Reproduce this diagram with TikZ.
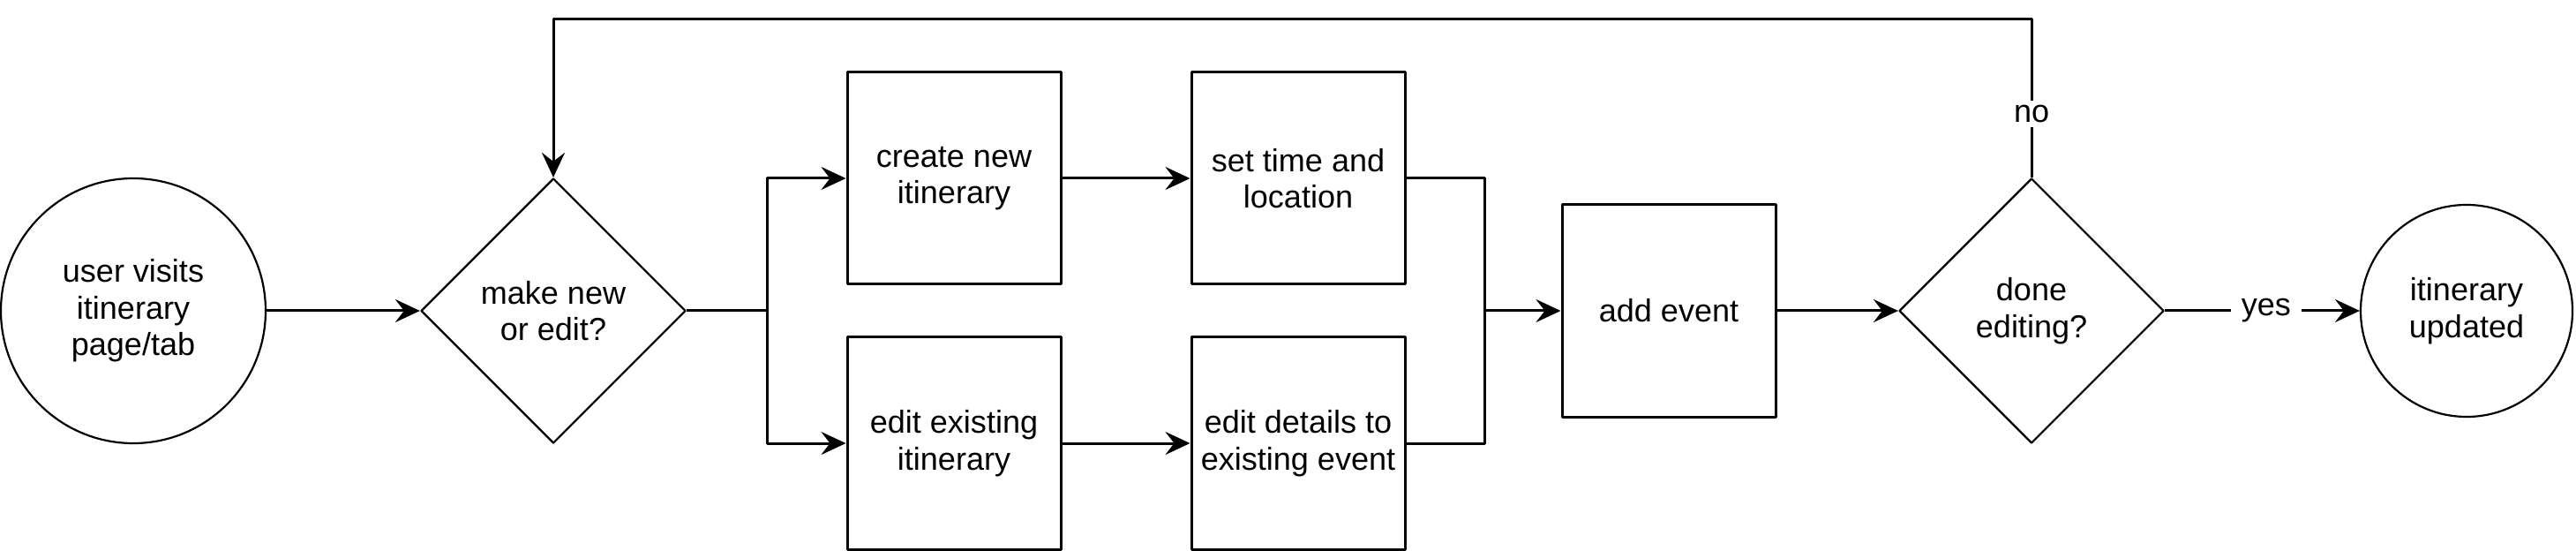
\documentclass[tikz,border=0pt]{standalone}
\usepackage{fontspec}
\setmainfont{Liberation Sans}
\usetikzlibrary{arrows.meta,shapes.geometric}
\begin{document}
\begin{tikzpicture}[>={Stealth[length=2.8mm,width=2.6mm,inset=1mm]}, line width=0.3mm, line join=round,
  font=\fontsize{10.25}{11.8}\selectfont,
  stepbox/.style={draw, rectangle, minimum width=2.42cm, minimum height=2.4cm, align=center, inner sep=0pt},
  decide/.style={draw, diamond, line width=0.22mm, minimum width=3cm, minimum height=3cm, align=center, inner sep=0pt},
  term/.style={draw, circle, line width=0.22mm, align=center, inner sep=0pt},
  lbl/.style={fill=white, inner xsep=1.2mm, inner ysep=0.5mm}]
\useasboundingbox (0,0) rectangle (29.19,-6.24);
% Knoten
\node[term, minimum size=3cm] (visit) at (1.51,-3.52) {user visits\\itinerary\\page/tab};
\node[decide] (choice) at (6.27,-3.52) {make new\\or edit?};
\node[stepbox] (create) at (10.81,-2.02) {create new\\itinerary};
\node[stepbox] (settime) at (14.71,-2.02) {set time and\\location};
\node[stepbox] (editexist) at (10.81,-5.02) {edit existing\\itinerary};
\node[stepbox] (editdetails) at (14.71,-5.02) {edit details to\\existing event};
\node[stepbox] (addevent) at (18.91,-3.52) {add event};
\node[decide] (done) at (23.02,-3.52) {done\\editing?};
\node[term, minimum size=2.4cm] (updated) at (27.95,-3.52) {itinerary\\updated};
\coordinate (split) at (8.69,-3.52);
\coordinate (merge) at (16.82,-3.52);
\coordinate (loop) at (23.02,-0.22);
% Pfeile
\draw[->] (visit) -- (choice);
\draw (choice.east) -- (split);
\draw[->] (split) |- (create);
\draw[->] (split) |- (editexist);
\draw[->] (create) -- (settime);
\draw[->] (editexist) -- (editdetails);
\draw (settime.east) -| (merge);
\draw (editdetails.east) -| (merge);
\draw[->] (merge) -- (addevent);
\draw[->] (addevent) -- (done);
\draw[->] (done.east) -- node[lbl, pos=0.52]{yes} (updated);
\draw[->] (done.north) -- node[lbl, pos=0.4]{no} (loop) -| (choice.north);
\end{tikzpicture}
\end{document}
